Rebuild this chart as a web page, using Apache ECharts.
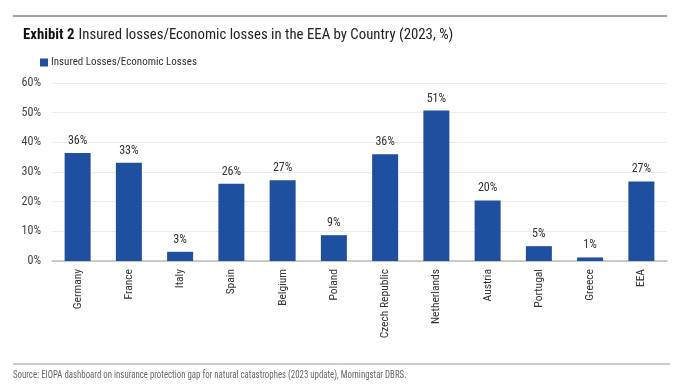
<!DOCTYPE html>
<html><head><meta charset="utf-8">
<script src="https://cdn.jsdelivr.net/npm/echarts@6/dist/echarts.min.js"></script>
<style>html,body{margin:0;padding:0;background:#fff}#c{width:682px;height:387px}</style>
</head><body><div id="c"></div>
<script>
var categories = ["Germany","France","Italy","Spain","Belgium","Poland","Czech Republic","Netherlands","Austria","Portugal","Greece","EEA"];
var ratioValues = [36.4, 33.1, 3.1, 26.0, 27.2, 8.7, 36.0, 50.7, 20.4, 5.0, 1.2, 26.8];
var yTicks = [0, 10, 20, 30, 40, 50, 60];
var seriesName = "Insured Losses/Economic Losses";
var FONT = "'Roboto Condensed','Open Sans',sans-serif";

var chart = echarts.init(document.getElementById('c'), null, {renderer:'canvas'});
chart.setOption({
  animation:false,
  textStyle:{fontFamily:FONT},
  title:{
    left:18, top:21,
    text:'{b|Exhibit 2} {n|Insured losses/Economic losses in the EEA by Country (2023, %)}',
    textStyle:{fontWeight:'normal',rich:{
      b:{fontFamily:FONT,fontWeight:'bold',fontSize:14.8,color:'#111'},
      n:{fontFamily:FONT,fontWeight:'normal',fontSize:14.8,color:'#222'}
    }}
  },
  legend:{
    left:35, top:52, itemWidth:8, itemHeight:8, itemGap:4,
    icon:'rect',
    textStyle:{fontFamily:FONT,fontSize:11,color:'#333',padding:[0,0,0,-2]},
    data:[seriesName]
  },
  grid:{left:52, right:15, top:83, bottom:126, containLabel:false},
  xAxis:{
    type:'category', data:categories,
    axisLine:{lineStyle:{color:'#bbbbbb',width:1.5}},
    axisTick:{show:false},
    axisLabel:{rotate:90, fontFamily:FONT, fontSize:11.5, color:'#333', margin:8, interval:0}
  },
  yAxis:{
    type:'value', min:yTicks[0], max:yTicks[yTicks.length-1], interval:10,
    axisLine:{show:false}, axisTick:{show:false},
    splitLine:{lineStyle:{color:'#ebebeb',width:1}},
    axisLabel:{fontFamily:FONT, fontSize:12, color:'#444', margin:11, formatter:function(v){return v+'%';}}
  },
  series:[{
    name:seriesName, type:'bar', data:ratioValues,
    barWidth:26,
    itemStyle:{color:'#1f4f9f'},
    label:{show:true, position:'top', distance:6, fontFamily:FONT, fontSize:12, color:'#333',
      formatter:function(p){return Math.round(p.value)+'%';}}
  }],
  graphic:[
    {type:'line', shape:{x1:13,y1:16,x2:667,y2:16}, style:{stroke:'#444',lineWidth:1}},
    {type:'line', shape:{x1:13,y1:364,x2:670,y2:364}, style:{stroke:'#999',lineWidth:1}},
    {type:'text', x:13, y:370, scaleX:0.84, originX:0, originY:0,
     style:{text:'Source: EIOPA dashboard on insurance protection gap for natural catastrophes (2023 update), Morningstar DBRS.', font:'10.5px '+FONT, fill:'#666'}}
  ]
});
</script></body></html>
